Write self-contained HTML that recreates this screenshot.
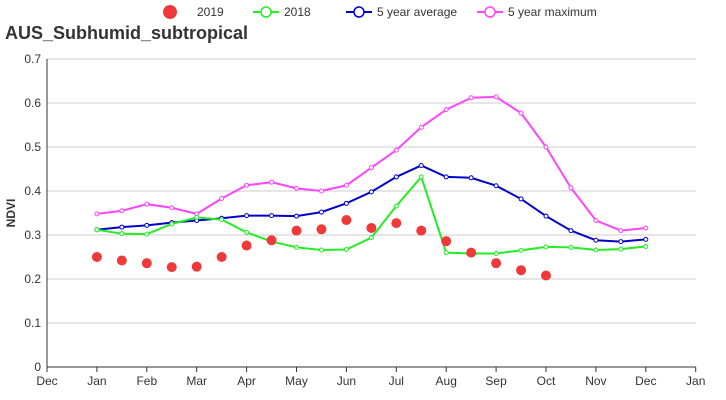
<!DOCTYPE html>
<html><head><meta charset="utf-8"><style>
body{margin:0;background:#fff;font-family:"Liberation Sans",sans-serif}
svg{display:block}
</style></head><body>
<svg id="c" width="726" height="400">
<text x="5" y="39" font-size="18" font-weight="bold" fill="#333">AUS_Subhumid_subtropical</text>
<g id="legend"></g>
<g id="grid"></g><g id="axes"></g><g id="series"></g>
<text transform="translate(15,213) rotate(-90)" text-anchor="middle" font-size="12" font-weight="bold" fill="#333">NDVI</text>
</svg>
<script>
const monthLabels=["Dec","Jan","Feb","Mar","Apr","May","Jun","Jul","Aug","Sep","Oct","Nov","Dec","Jan"];
const yTicks=[0,0.1,0.2,0.3,0.4,0.5,0.6,0.7];
const s2019=[0.25,0.242,0.236,0.227,0.228,0.25,0.276,0.288,0.31,0.313,0.334,0.316,0.327,0.31,0.286,0.26,0.236,0.22,0.208];
const s2018=[0.312,0.303,0.302,0.325,0.34,0.335,0.306,0.285,0.272,0.266,0.267,0.294,0.366,0.432,0.26,0.258,0.258,0.265,0.273,0.272,0.266,0.268,0.274];
const avg5=[0.312,0.318,0.322,0.328,0.333,0.338,0.344,0.344,0.343,0.352,0.372,0.398,0.432,0.458,0.432,0.43,0.412,0.382,0.343,0.31,0.288,0.285,0.29];
const max5=[0.348,0.355,0.37,0.362,0.348,0.383,0.413,0.42,0.406,0.40,0.413,0.453,0.493,0.545,0.585,0.612,0.614,0.577,0.50,0.407,0.333,0.31,0.316];
const NS="http://www.w3.org/2000/svg";
const X0=47,MW=49.9,Y0=367,YS=440;
const xs=i=>X0+MW+i*MW/2;
const ys=v=>Y0-v*YS;
function mk(t,a,p){const e=document.createElementNS(NS,t);for(const k in a)e.setAttribute(k,a[k]);document.getElementById(p).appendChild(e);return e;}
yTicks.forEach((v,i)=>{
 const l=mk('line',{x1:X0,x2:X0+13*MW,y1:ys(v),y2:ys(v),stroke:i==0?'#333':'#ccc'},'grid');
 
 
 const t=mk('text',{x:X0-6,y:ys(v)+4,'text-anchor':'end','font-size':12,fill:'#333'},'axes');t.textContent=v;
 
 
});
mk('line',{x1:X0,x2:X0,y1:ys(0.7),y2:Y0,stroke:'#333'},'axes');
monthLabels.forEach((m,i)=>{
 const x=X0+i*MW;
 mk('line',{x1:x,x2:x,y1:Y0,y2:Y0+5,stroke:'#333'},'axes');
 const t=mk('text',{x:x,y:Y0+18,'text-anchor':'middle','font-size':12,fill:'#333'},'axes');t.textContent=m;
 
 
});
function line(d,c,name){
 const p=mk('polyline',{points:d.map((v,i)=>xs(i)+','+ys(v)).join(' '),fill:'none',stroke:c,'stroke-width':2},'series');
 
 
 d.forEach((v,i)=>{const c2=mk('circle',{cx:xs(i),cy:ys(v),r:2,fill:'#fff',stroke:c,'stroke-width':1},'series');
 
 });
}
line(max5,'#ff44ff','max5');
line(avg5,'#0000cc','avg5');
line(s2018,'#22ee22','s2018');
s2019.forEach((v,i)=>{const c=mk('circle',{cx:xs(i),cy:ys(v),r:5,fill:'#f03a3a'},'series');
 
 });
const leg=[["2019","#f03a3a",true,170],["2018","#22ee22",false,266],["5 year average","#0000cc",false,359],["5 year maximum","#ff44ff",false,490]];
leg.forEach(([n,c,dot,x])=>{
 if(dot){mk('circle',{cx:x,cy:12,r:7,fill:c},'legend');}
 else{mk('line',{x1:x-13,x2:x+13,y1:12,y2:12,stroke:c,'stroke-width':2},'legend');mk('circle',{cx:x,cy:12,r:5,fill:'#fff',stroke:c,'stroke-width':1.5},'legend');}
 const t=mk('text',{x:x+(dot?27:18),y:16,'font-size':12,fill:'#333'},'legend');t.textContent=n;
 
 
});
</script>
</body></html>
